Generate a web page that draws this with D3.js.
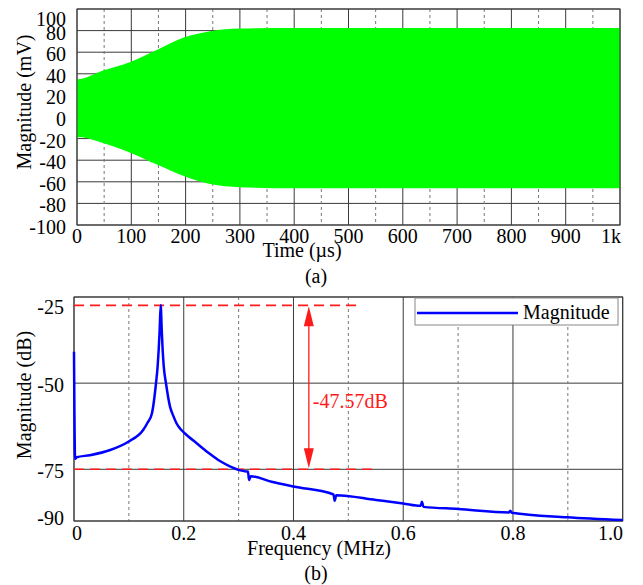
<!DOCTYPE html>
<html>
<head>
<meta charset="utf-8">
<script src="https://cdn.jsdelivr.net/npm/d3@7"></script>
<style>
  body { margin: 0; background: #fff; }
</style>
</head>
<body>
<script>
// (a) time signal envelope
const timeUs  = [0, 1, 48, 98, 147, 199, 245, 300, 400, 500, 600, 700, 800, 900, 1000]
const upperMv = [35, 35, 43, 51, 62, 74, 79.5, 82, 82.5, 82.5, 82.5, 82.5, 82.5, 82.5, 82.5]
const lowerMv = [-60, -18.5, -24, -33, -44, -55, -62, -65, -66, -66, -66, -66, -66, -66, -66]
const timeTicks = [0, 100, 200, 300, 400, 500, 600, 700, 800, 900, 1000]
const timeTickLabels = ['0', '100', '200', '300', '400', '500', '600', '700', '800', '900', '1k']
const timeMinor = [50, 150, 250, 350, 450, 550, 650, 750, 850, 950]
const mvTicks = [-100, -80, -60, -40, -20, 0, 20, 40, 60, 80, 100]

// (b) spectrum
const freqMHz = [0, 0.002, 0.005, 0.029, 0.066, 0.099, 0.126, 0.134, 0.142, 0.1494, 0.1525,
  0.1543, 0.156, 0.158, 0.160, 0.1616, 0.1635, 0.1677, 0.175, 0.181, 0.187, 0.194, 0.2023,
  0.224, 0.245, 0.266, 0.285, 0.303, 0.314, 0.317, 0.319, 0.322, 0.36, 0.4, 0.473, 0.475,
  0.478, 0.55, 0.6, 0.632, 0.634, 0.637, 0.7, 0.793, 0.795, 0.798, 0.898, 1.0]
const magDb = [-40.9, -72.0, -71.5, -70.9, -69.4, -67.0, -63.6, -61.5, -58.8, -50.1, -45,
  -40.4, -35, -27.43, -35, -40.4, -45, -50.1, -56.8, -59.5, -61.7, -63.3, -64.6,
  -67.5, -70.2, -72.6, -74.2, -75.3, -75.6, -75.6, -78.1, -77.0, -78.6, -80.0, -82.3, -84.1,
  -82.5, -83.9, -84.9, -85.6, -84.4, -85.9, -86.5, -87.5, -87.0, -87.6, -88.9, -89.7]
const freqTicks = [0, 0.2, 0.4, 0.6, 0.8, 1.0]
const freqTickLabels = ['0', '0.2', '0.4', '0.6', '0.8', '1.0']
const freqMinor = [0.1, 0.3, 0.5, 0.7, 0.9]
const dbTicks = [-90, -75, -50, -25]
const peakDb = -27.43
const floorDb = -75
const arrowFreq = 0.428
const deltaLabel = '-47.57dB'

const FONT = '"Liberation Serif", "Times New Roman", Times, serif'
const FS = 20
const svg = d3.select('body').append('svg').attr('width', 643).attr('height', 585)
  .style('font-family', FONT)
const gridDark = '#3a3a3a', gridDash = '#777'

// ---------- (a) ----------
const xa = d3.scaleLinear().domain([0, 1000]).range([77, 620])
const ya = d3.scaleLinear().domain([-100, 100]).range([225, 9])
const ga = svg.append('g')

ga.selectAll('.hg').data(mvTicks).join('line')
  .attr('x1', 77).attr('x2', 620).attr('y1', d => ya(d)).attr('y2', d => ya(d))
  .attr('stroke', gridDark).attr('stroke-width', 1)
ga.selectAll('.vd').data(timeMinor).join('line')
  .attr('x1', d => xa(d)).attr('x2', d => xa(d)).attr('y1', 9).attr('y2', 225)
  .attr('stroke', gridDash).attr('stroke-dasharray', '3,3')
ga.selectAll('.vg').data(timeTicks).join('line')
  .attr('x1', d => xa(d)).attr('x2', d => xa(d)).attr('y1', 9).attr('y2', 225)
  .attr('stroke', gridDark).attr('stroke-width', 1)

const env = timeUs.map((t, i) => ({ t, hi: upperMv[i], lo: lowerMv[i] }))
ga.append('path').datum(env)
  .attr('fill', '#00ff00')
  .attr('d', d3.area().x(d => xa(d.t)).y0(d => ya(d.lo)).y1(d => ya(d.hi)).curve(d3.curveMonotoneX))

ga.append('rect').attr('x', 77).attr('y', 9).attr('width', 543).attr('height', 216)
  .attr('fill', 'none').attr('stroke', gridDark)

ga.selectAll('.yl').data(mvTicks).join('text')
  .attr('x', 66).attr('y', d => ya(d) + (d === 100 ? 10 : 2)).attr('dy', '0.35em')
  .attr('text-anchor', 'end').attr('font-size', FS).text(d => d)
ga.selectAll('.xl').data(timeTicks).join('text')
  .attr('x', (d, i) => i === timeTicks.length - 1 ? 621 : xa(d))
  .attr('y', 243)
  .attr('text-anchor', (d, i) => i === timeTicks.length - 1 ? 'end' : 'middle')
  .attr('font-size', FS).text((d, i) => timeTickLabels[i])
ga.append('text').attr('x', 302).attr('y', 257).attr('text-anchor', 'middle')
  .attr('font-size', FS).text('Time (µs)')
ga.append('text').attr('transform', 'translate(31,102) rotate(-90)').attr('text-anchor', 'middle')
  .attr('font-size', FS).text('Magnitude (mV)')
ga.append('text').attr('x', 316).attr('y', 283).attr('text-anchor', 'middle')
  .attr('font-size', FS).text('(a)')

// ---------- (b) ----------
const xb = d3.scaleLinear().domain([0, 1.0]).range([74, 622.7])
const yb = d3.scaleLinear().domain([-90, -25]).range([521, 297])
const gb = svg.append('g')

gb.selectAll('.hg').data(dbTicks).join('line')
  .attr('x1', 74).attr('x2', 622.7).attr('y1', d => yb(d)).attr('y2', d => yb(d))
  .attr('stroke', gridDark)
gb.selectAll('.vd').data(freqMinor).join('line')
  .attr('x1', d => xb(d)).attr('x2', d => xb(d)).attr('y1', 297).attr('y2', 521)
  .attr('stroke', gridDash).attr('stroke-dasharray', '3,3')
gb.selectAll('.vg').data(freqTicks).join('line')
  .attr('x1', d => xb(d)).attr('x2', d => xb(d)).attr('y1', 297).attr('y2', 521)
  .attr('stroke', gridDark)
gb.append('rect').attr('x', 74).attr('y', 297).attr('width', 548.7).attr('height', 224)
  .attr('fill', 'none').attr('stroke', gridDark)

// red annotation
const red = '#ff1a1a'
gb.append('line').attr('x1', 74).attr('x2', xb(0.52)).attr('y1', yb(peakDb)).attr('y2', yb(peakDb))
  .attr('stroke', red).attr('stroke-width', 1.6).attr('stroke-dasharray', '10,6')
gb.append('line').attr('x1', 74).attr('x2', xb(0.543)).attr('y1', yb(floorDb)).attr('y2', yb(floorDb))
  .attr('stroke', red).attr('stroke-width', 1.6).attr('stroke-dasharray', '10,6')
const ax = xb(arrowFreq), aTop = yb(peakDb), aBot = yb(floorDb)
gb.append('line').attr('x1', ax).attr('x2', ax).attr('y1', aTop + 18).attr('y2', aBot - 18)
  .attr('stroke', red).attr('stroke-width', 1.3)
gb.append('path').attr('fill', red)
  .attr('d', `M${ax},${aTop + 1}L${ax - 5},${aTop + 21}L${ax + 5},${aTop + 21}Z`)
gb.append('path').attr('fill', red)
  .attr('d', `M${ax},${aBot - 1}L${ax - 5},${aBot - 21}L${ax + 5},${aBot - 21}Z`)
gb.append('text').attr('x', ax + 4).attr('y', 408).attr('font-size', FS)
  .attr('fill', red).text(deltaLabel)

// spectrum line
const spec = freqMHz.map((f, i) => ({ f, db: magDb[i] }))
gb.append('path').datum(spec)
  .attr('fill', 'none').attr('stroke', '#0000ff').attr('stroke-width', 2.5)
  .attr('stroke-linejoin', 'round')
  .attr('d', d3.line().x(d => xb(d.f)).y(d => yb(d.db)).curve(d3.curveMonotoneX))

// legend
gb.append('rect').attr('x', 415).attr('y', 298).attr('width', 203).attr('height', 27)
  .attr('fill', '#fff').attr('stroke', '#888')
gb.append('line').attr('x1', 417).attr('x2', 518).attr('y1', 313).attr('y2', 313)
  .attr('stroke', '#0000ff').attr('stroke-width', 2.5)
gb.append('text').attr('x', 523).attr('y', 319).attr('font-size', FS).text('Magnitude')

gb.selectAll('.yl').data(dbTicks).join('text')
  .attr('x', 64).attr('y', d => yb(d) + (d === -25 ? 10 : d === -90 ? -3 : 2)).attr('dy', '0.35em')
  .attr('text-anchor', 'end').attr('font-size', FS).text(d => d)
gb.selectAll('.xl').data(freqTicks).join('text')
  .attr('x', (d, i) => i === 0 ? 77 : i === freqTicks.length - 1 ? 623 : xb(d))
  .attr('y', 540)
  .attr('text-anchor', (d, i) => i === freqTicks.length - 1 ? 'end' : 'middle')
  .attr('font-size', FS).text((d, i) => freqTickLabels[i])
gb.append('text').attr('x', 319).attr('y', 555).attr('text-anchor', 'middle')
  .attr('font-size', FS).text('Frequency (MHz)')
gb.append('text').attr('transform', 'translate(31,395) rotate(-90)').attr('text-anchor', 'middle')
  .attr('font-size', FS).text('Magnitude (dB)')
gb.append('text').attr('x', 316).attr('y', 580).attr('text-anchor', 'middle')
  .attr('font-size', FS).text('(b)')
</script>
</body>
</html>
